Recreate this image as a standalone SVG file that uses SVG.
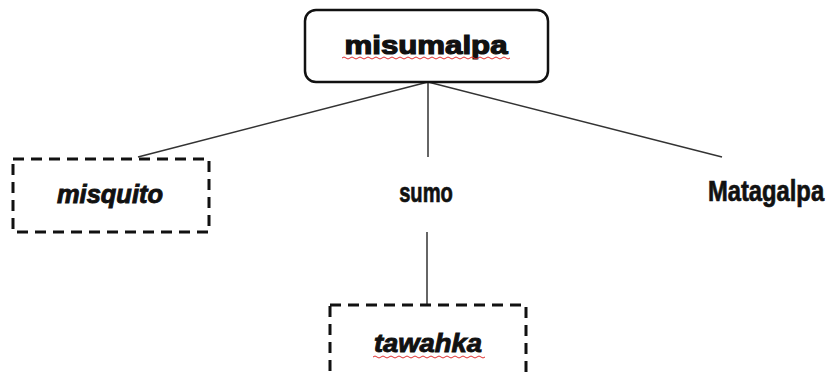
<svg xmlns="http://www.w3.org/2000/svg" width="832" height="378" viewBox="0 0 832 378">
<style>
.lbl{font-family:"Liberation Sans",Arial,sans-serif;font-weight:bold;fill:#111;stroke:#111;text-anchor:middle}
.it{font-style:italic}
.dash{fill:#fff;stroke:#111;stroke-width:3;stroke-dasharray:11 7}
.edge{stroke:#333;stroke-width:1.5;fill:none}
.wavy{fill:none;stroke:#e03030;stroke-width:1}
</style>
<rect width="832" height="378" fill="#fff"/>
<g id="connectors">
<line class="edge" x1="428" y1="82" x2="138" y2="157"/>
<line class="edge" x1="428" y1="82" x2="428" y2="157"/>
<line class="edge" x1="428" y1="82" x2="722" y2="157"/>
<line class="edge" x1="427" y1="232" x2="427" y2="305"/>
</g>
<g id="misumalpa">
<rect x="305" y="10" width="243" height="72" rx="11" fill="#fff" stroke="#111" stroke-width="2.5"/>
<text class="lbl" x="426" y="54" font-size="26" stroke-width="1.2" textLength="163" lengthAdjust="spacingAndGlyphs">misumalpa</text>
<path class="wavy" d="M342 58 q2 -2 4 0 t4 0 t4 0 t4 0 t4 0 t4 0 t4 0 t4 0 t4 0 t4 0 t4 0 t4 0 t4 0 t4 0 t4 0 t4 0 t4 0 t4 0 t4 0 t4 0 t4 0 t4 0 t4 0 t4 0 t4 0 t4 0 t4 0 t4 0 t4 0 t4 0 t4 0 t4 0 t4 0 t4 0 t4 0 t4 0 t4 0 t4 0 t4 0 t4 0 t4 0 t4 0"/>
</g>
<g id="misquito">
<rect class="dash" x="13" y="159" width="196" height="73"/>
<text class="lbl it" x="110" y="203" font-size="25" stroke-width="0.9" textLength="106" lengthAdjust="spacingAndGlyphs">misquito</text>
</g>
<g id="sumo">
<text class="lbl" transform="translate(426 202) scale(0.72 1)" x="0" y="0" font-size="28" stroke-width="0.7">sumo</text>
</g>
<g id="matagalpa">
<text class="lbl" transform="translate(766 201) scale(0.82 1)" x="0" y="0" font-size="29" stroke-width="0.7">Matagalpa</text>
</g>
<g id="tawahka">
<rect class="dash" x="330" y="305" width="196" height="80"/>
<text class="lbl it" x="428" y="352" font-size="25" stroke-width="0.9" textLength="108" lengthAdjust="spacingAndGlyphs">tawahka</text>
<path class="wavy" d="M373 357 q2 -2 4 0 t4 0 t4 0 t4 0 t4 0 t4 0 t4 0 t4 0 t4 0 t4 0 t4 0 t4 0 t4 0 t4 0 t4 0 t4 0 t4 0 t4 0 t4 0 t4 0 t4 0 t4 0 t4 0 t4 0 t4 0 t4 0 t4 0 t4 0"/>
</g>
</svg>
